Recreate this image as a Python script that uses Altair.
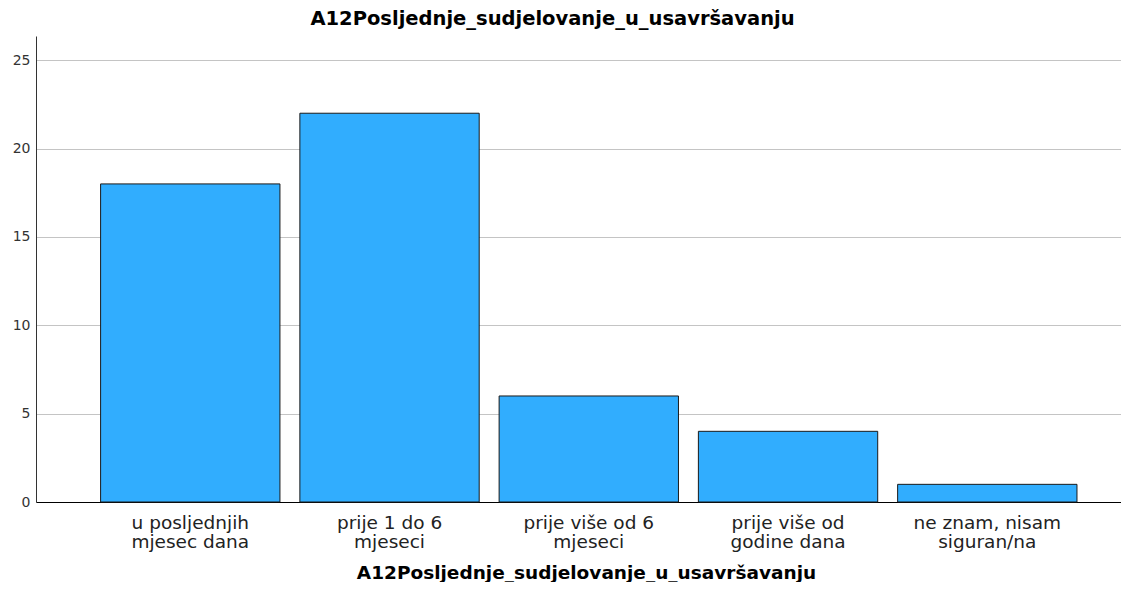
import altair as alt
import pandas as pd

categories = [
    "u posljednjih\nmjesec dana",
    "prije 1 do 6\nmjeseci",
    "prije više od 6\nmjeseci",
    "prije više od\ngodine dana",
    "ne znam, nisam\nsiguran/na",
]
counts = [18, 22, 6, 4, 1]
y_ticks = [0, 5, 10, 15, 20, 25]
title_text = "A12Posljednje_sudjelovanje_u_usavršavanju"

df = pd.DataFrame({"cat": categories, "count": counts})

FONT = "DejaVu Sans"

# plot area 36..1121 px; bars start at 101 with step ~199
W = 1085
chart = (
    alt.Chart(df)
    .mark_bar(color="#31adfe", stroke="#1a1a1a", strokeWidth=1)
    .encode(
        x=alt.X(
            "cat:N",
            sort=categories,
            scale=alt.Scale(paddingInner=0.1, paddingOuter=0.2726, align=0.5947),
            axis=alt.Axis(
                title=title_text,
                labelExpr="split(datum.label, '\\n')",
                labelAngle=0,
                labelFont=FONT,
                labelFontSize=18.5,
                labelLineHeight=19,
                labelColor="#222222",
                labelPadding=11,
                ticks=False,
                domainColor="#000000",
                domainWidth=1,
                titleFont=FONT,
                titleFontSize=18.5,
                titleFontWeight="bold",
                titleColor="#000000",
                titlePadding=13,
                titleX=550,
                titleAlign="center",
                grid=False,
            ),
        ),
        y=alt.Y(
            "count:Q",
            scale=alt.Scale(domain=[0, 26.37], nice=False, zero=True),
            axis=alt.Axis(
                title=None,
                values=y_ticks,
                labelFont=FONT,
                labelFontSize=14,
                labelColor="#333333",
                labelPadding=6,
                ticks=False,
                domainColor="#333333",
                domainWidth=1,
                grid=True,
                gridColor="#c4c4c4",
                gridWidth=1,
            ),
        ),
    )
    .properties(
        width=W,
        height=466,
        title=alt.TitleParams(
            text=title_text,
            font=FONT,
            fontSize=19.5,
            fontWeight="bold",
            color="#000000",
            anchor="middle",
            dx=-26,
            offset=7,
        ),
        autosize=alt.AutoSizeParams(type="none"),
        padding={"left": 28, "top": 28, "right": 0, "bottom": 80},
    )
    .configure_view(stroke=None)
)

chart.save("out.html", embed_options={"renderer": "svg", "actions": False})
